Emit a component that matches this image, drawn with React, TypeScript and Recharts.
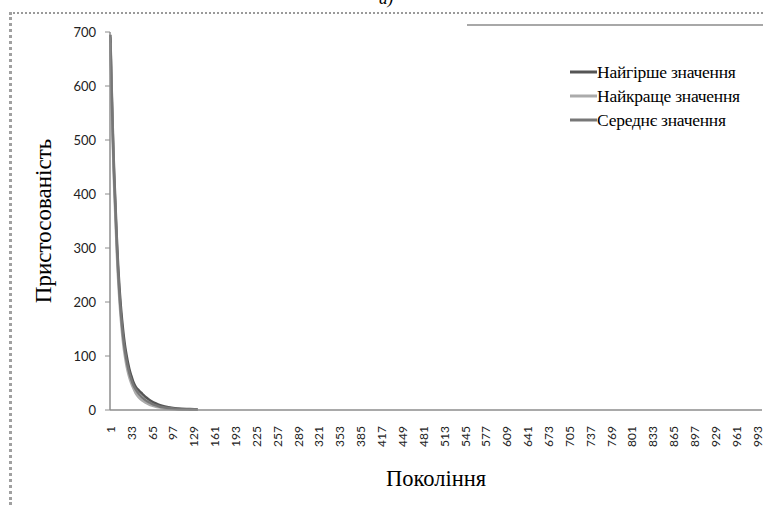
import { LineChart, Line, XAxis, YAxis } from 'recharts'

const generations = [1, 2, 3, 4, 5, 6, 7, 8, 9, 10, 11, 12, 13, 14, 15, 16, 17, 18, 19, 20, 22, 24, 26, 28, 30, 33, 36, 40, 45, 50, 55, 60, 65, 70, 75, 80, 90, 100, 110, 120, 130, 135]
const worst = [695, 650, 600, 556, 512, 472, 437, 407, 377, 347, 318, 292, 267, 247, 227, 210, 194, 180, 167, 155, 133, 115, 101, 88, 77, 64, 53, 43, 36, 30, 24, 19.5, 15.5, 12.5, 10, 8, 5.2, 3.4, 2.4, 1.8, 1.3, 1.1]
const best = [680, 625, 575, 530, 485, 445, 410, 380, 350, 320, 290, 265, 242, 222, 203, 186, 170, 156, 143, 131, 111, 95, 81, 70, 61, 50, 41, 31, 23, 17.5, 13.5, 10.5, 8.2, 6.4, 5, 3.9, 2.4, 1.5, 1, 0.7, 0.5, 0.45]
const mean = [690, 640, 590, 545, 500, 460, 425, 395, 365, 335, 305, 280, 255, 235, 215, 198, 182, 168, 155, 143, 122, 105, 91, 79, 69, 57, 47, 38, 29, 23, 18, 14.5, 11.5, 9, 7, 5.5, 3.5, 2.3, 1.6, 1.2, 0.9, 0.8]

const xTicks = [1, 33, 65, 97, 129, 161, 193, 225, 257, 289, 321, 353, 385, 417, 449, 481, 513, 545, 577, 609, 641, 673, 705, 737, 769, 801, 833, 865, 897, 929, 961, 993]
const yTicks = [0, 100, 200, 300, 400, 500, 600, 700]

const series = [
  { key: 'worst', name: 'Найгірше значення', color: '#555555' },
  { key: 'best', name: 'Найкраще значення', color: '#ababab' },
  { key: 'mean', name: 'Середнє значення', color: '#777777' },
]

const rows = generations.map((g, i) => ({ gen: g, worst: worst[i], best: best[i], mean: mean[i] }))

const serif = 'Liberation Serif, serif'
const sans = 'Lato, Liberation Sans, sans-serif'

function XTick({ x, y, payload }: any) {
  return (
    <g transform={`translate(${x},${y + 8})`}>
      <text transform="rotate(-90)" textAnchor="end" dominantBaseline="central" fontSize={12} fontFamily={sans} fill="#222">
        {payload.value}
      </text>
    </g>
  )
}

// legend drawn as svg text so the serif face is used
function LegendBox() {
  return (
    <svg width={200} height={80} style={{ position: 'absolute', left: 568, top: 60 }}>
      {series.map((s, i) => (
        <g key={s.key} transform={`translate(0,${12 + i * 24})`}>
          <line x1={2} x2={29} y1={0} y2={0} stroke={s.color} strokeWidth={3} />
          <text x={29} y={0} dominantBaseline="central" fontFamily={serif} fontSize={17.5} fill="#000" letterSpacing={-0.25}>
            {s.name}
          </text>
        </g>
      ))}
    </svg>
  )
}

export default function App() {
  return (
    <div style={{ position: 'absolute', left: 0, top: 0, width: 763, height: 505, background: '#fff', overflow: 'hidden' }}>
      <div style={{ position: 'absolute', left: 379, top: -11, fontFamily: serif, fontStyle: 'italic', fontSize: 17 }}>a)</div>
      <div style={{ position: 'absolute', left: 10, top: 12, width: 753, height: 0, borderTop: '2px dotted #9a9a9a' }} />
      <div style={{ position: 'absolute', left: 9, top: 12, width: 0, height: 493, borderLeft: '3px dotted #a0a0a0' }} />
      <div style={{ position: 'absolute', left: 467, top: 24, width: 296, height: 2, background: '#a8a8a8' }} />
      <LineChart width={763} height={505} data={rows} margin={{ top: 32, right: 1, bottom: 15, left: 10 }}>
        <XAxis
          dataKey="gen"
          type="number"
          domain={[0.5, 1000.5]}
          ticks={xTicks}
          interval={0}
          tickLine={false}
          axisLine={{ stroke: '#8c8c8c', strokeWidth: 1.5 }}
          tick={<XTick />}
          height={80}
          label={{ value: 'Покоління', position: 'insideBottom', offset: 4, style: { fontFamily: serif, fontSize: 22.5, fill: '#000' } }}
        />
        <YAxis
          type="number"
          domain={[0, 700]}
          ticks={yTicks}
          width={100}
          tickSize={5}
          tickMargin={9}
          tickLine={{ stroke: '#8c8c8c' }}
          axisLine={{ stroke: '#8c8c8c', strokeWidth: 1.5 }}
          tick={{ fontFamily: sans, fontSize: 13, fill: '#222' }}
          label={{ value: 'Пристосованість', angle: -90, position: 'insideLeft', offset: 33, style: { fontFamily: serif, fontSize: 23, fill: '#000', textAnchor: 'middle' } }}
        />
        {series.map((s) => (
          <Line
            key={s.key}
            dataKey={s.key}
            name={s.name}
            stroke={s.color}
            strokeWidth={2.5}
            type="monotone"
            dot={false}
            isAnimationActive={false}
          />
        ))}
      </LineChart>
      <LegendBox />
    </div>
  )
}
